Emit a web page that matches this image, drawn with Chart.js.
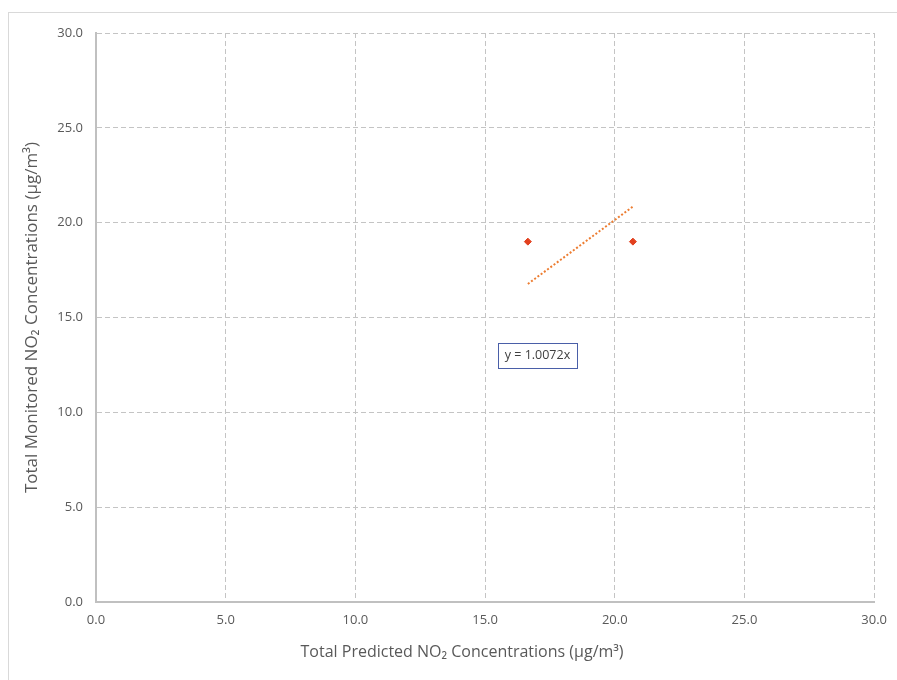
<!DOCTYPE html>
<html>
<head>
<meta charset="utf-8">
<script src="https://cdn.jsdelivr.net/npm/chart.js@4/dist/chart.umd.min.js"></script>
<style>
  html, body { margin: 0; padding: 0; background: #ffffff; }
  #wrap { width: 897px; height: 680px; position: relative; }
  canvas { display: block; }
</style>
</head>
<body>
<div id="wrap"><canvas id="c" width="897" height="680"></canvas></div>
<script>
// Predicted vs monitored annual-mean NO2 at the monitoring sites
const predicted = [16.65, 20.7];
const monitored = [19.0, 19.0];

// Linear trendline forced through the origin
const trendSlope = 1.0072;
const trendLabel = 'y = 1.0072x';
const trendLabelAt = { x: 17.02, y: 13.0 };

// Axis ticks
const axisMin = 0;
const axisMax = 30;
const axisStep = 5;

const xTitle = 'Total Predicted NO\u2082 Concentrations (\u00b5g/m\u00b3)';
const yTitle = 'Total Monitored NO\u2082 Concentrations (\u00b5g/m\u00b3)';

const FONT = '"Open Sans", "Noto Sans", sans-serif';
const TEXT = '#595959';

const points = predicted.map((x, i) => ({ x, y: monitored[i] }));
const xLo = Math.min(...predicted);
const xHi = Math.max(...predicted);
const trend = [xLo, xHi].map(x => ({ x, y: trendSlope * x }));

// Light frame around the whole chart
const framePlugin = {
  id: 'frame',
  beforeDraw(chart) {
    const ctx = chart.ctx;
    ctx.save();
    ctx.strokeStyle = '#d9d9d9';
    ctx.lineWidth = 1;
    ctx.strokeRect(8.5, 12.5, chart.width + 10, chart.height + 10);
    ctx.restore();
  }
};

// Horizontal axis title and trendline equation box
const annotPlugin = {
  id: 'annot',
  afterDraw(chart) {
    const ctx = chart.ctx;
    const xs = chart.scales.x, ys = chart.scales.y;
    ctx.save();
    ctx.font = '16px ' + FONT;
    ctx.fillStyle = TEXT;
    ctx.textAlign = 'center';
    ctx.textBaseline = 'middle';
    const ca = chart.chartArea;
    ctx.fillText(xTitle, (ca.left + ca.right) / 2 - 23, 652);

    const cx = xs.getPixelForValue(trendLabelAt.x);
    const cy = ys.getPixelForValue(trendLabelAt.y);
    ctx.font = '12.5px ' + FONT;
    const w = 79, h = 25;
    const bx = Math.round(cx - w / 2) + 0.5, by = Math.round(cy - h / 2) + 0.5;
    ctx.fillStyle = '#ffffff';
    ctx.fillRect(bx, by, w, h);
    ctx.strokeStyle = '#4a5fa8';
    ctx.lineWidth = 1;
    ctx.strokeRect(bx, by, w, h);
    ctx.fillStyle = '#404040';
    ctx.fillText(trendLabel, cx, cy + 0.5);
    ctx.restore();
  }
};

const gridOpts = {
  // the zero line is drawn solid by the axis border instead
  color: ctx => (ctx.tick && ctx.tick.value === 0 ? 'rgba(0,0,0,0)' : '#c4c4c4'),
  lineWidth: 1,
  drawTicks: false
};
const borderOpts = { color: '#c0c0c0', width: 2, dash: [5, 3] };

new Chart(document.getElementById('c'), {
  type: 'scatter',
  data: {
    datasets: [
      {
        label: 'Monitored',
        data: points,
        pointStyle: 'rectRot',
        pointRadius: 3.5,
        pointHoverRadius: 3.5,
        backgroundColor: '#e2401e',
        borderColor: '#e2401e',
        borderWidth: 1,
        order: 1
      },
      {
        type: 'line',
        label: 'Linear trend',
        data: trend,
        borderColor: '#ed7d31',
        borderWidth: 2,
        borderDash: [2, 2],
        pointRadius: 0,
        fill: false,
        order: 2
      }
    ]
  },
  options: {
    responsive: false,
    animation: false,
    devicePixelRatio: 1,
    layout: { padding: { left: 16, top: 33, right: 19, bottom: 0 } },
    plugins: {
      legend: { display: false },
      tooltip: { enabled: false }
    },
    scales: {
      x: {
        type: 'linear',
        min: axisMin,
        max: axisMax,
        grid: gridOpts,
        border: borderOpts,
        ticks: {
          stepSize: axisStep,
          padding: 10,
          color: TEXT,
          font: { family: FONT, size: 13 },
          callback: v => Number(v).toFixed(1),
          maxRotation: 0
        },
        afterFit(scale) { scale.height = 78; }
      },
      y: {
        type: 'linear',
        min: axisMin,
        max: axisMax,
        grid: gridOpts,
        border: borderOpts,
        ticks: {
          stepSize: axisStep,
          padding: 13,
          color: TEXT,
          font: { family: FONT, size: 13 },
          callback: v => Number(v).toFixed(1)
        },
        title: {
          display: true,
          text: yTitle,
          color: TEXT,
          font: { family: FONT, size: 17 },
          padding: { top: 6, bottom: 0 }
        },
        afterFit(scale) { scale.width = 80; }
      }
    }
  },
  plugins: [framePlugin, annotPlugin]
});
</script>
</body>
</html>
